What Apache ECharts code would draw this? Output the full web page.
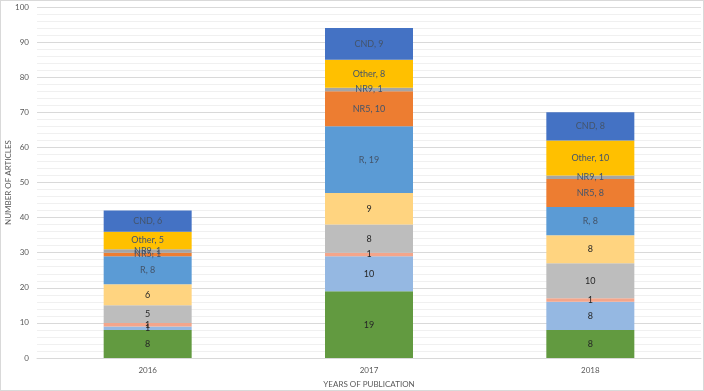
<!DOCTYPE html>
<html>
<head>
<meta charset="utf-8">
<script src="https://cdn.jsdelivr.net/npm/echarts@6/dist/echarts.min.js"></script>
<style>
    html, body { margin: 0; padding: 0; background: #fff; }
    #chart { width: 702px; height: 389px; border: 1px solid #d9d9d9; }
</style>
</head>
<body>
<div id="chart"></div>
<script>
// years on the x axis
var years = ['2016', '2017', '2018'];
var yTicks = [0, 10, 20, 30, 40, 50, 60, 70, 80, 90, 100];

// stacked segments, bottom to top
var seg1 = [8, 19, 8];
var seg2 = [1, 10, 8];
var seg3 = [1, 1, 1];
var seg4 = [5, 8, 10];
var seg5 = [6, 9, 8];
var rVals = [8, 19, 8];
var nr5Vals = [1, 10, 8];
var nr9Vals = [1, 1, 1];
var otherVals = [5, 8, 10];
var cndVals = [6, 9, 8];

var font = 'Lato, "Open Sans", sans-serif';

function seg(name, data, color, showName) {
    return {
        name: name,
        type: 'bar',
        stack: 'total',
        barWidth: 88,
        data: data,
        itemStyle: { color: color },
        label: {
            show: true,
            position: 'inside',
            fontFamily: font,
            fontSize: 9,
            color: showName ? '#44546a' : '#262626',
            formatter: showName ? '{a}, {c}' : '{c}'
        }
    };
}

var chart = echarts.init(document.getElementById('chart'));
var option = {
    animation: false,
    grid: { left: 36, right: 2, top: 6, bottom: 32, containLabel: false, outerBoundsMode: 'none' },
    xAxis: {
        type: 'category',
        data: years,
        name: 'YEARS OF PUBLICATION',
        nameLocation: 'middle',
        nameGap: 22,
        nameTextStyle: { fontFamily: font, fontSize: 8, color: '#595959' },
        axisLine: { lineStyle: { color: '#d9d9d9' } },
        axisTick: { show: false },
        axisLabel: { fontFamily: font, fontSize: 8, color: '#595959', margin: 8 },
        nameMoveOverlap: false
    },
    yAxis: {
        type: 'value',
        min: yTicks[0],
        max: yTicks[yTicks.length - 1],
        interval: 10,
        name: 'NUMBER OF ARTICLES',
        nameLocation: 'middle',
        nameGap: 25,
        nameMoveOverlap: false,
        nameTextStyle: { fontFamily: font, fontSize: 8, color: '#595959' },
        axisLine: { show: false },
        axisTick: { show: false },
        axisLabel: { fontFamily: font, fontSize: 8, color: '#595959', margin: 8 },
        splitLine: { lineStyle: { color: '#d9d9d9' } },
        minorTick: { show: false, splitNumber: 5 },
        minorSplitLine: { show: true, lineStyle: { color: '#f0f0f0' } }
    },
    series: [
        seg('A', seg1, '#629a40', false),
        seg('B', seg2, '#95b8e2', false),
        seg('C', seg3, '#f4a58a', false),
        seg('D', seg4, '#bdbdbd', false),
        seg('E', seg5, '#ffd480', false),
        seg('R', rVals, '#5b9bd5', true),
        seg('NR5', nr5Vals, '#ed7d31', true),
        seg('NR9', nr9Vals, '#a5a5a5', true),
        seg('Other', otherVals, '#ffc000', true),
        seg('CND', cndVals, '#4472c4', true)
    ]
};
chart.setOption(option);
</script>
</body>
</html>
